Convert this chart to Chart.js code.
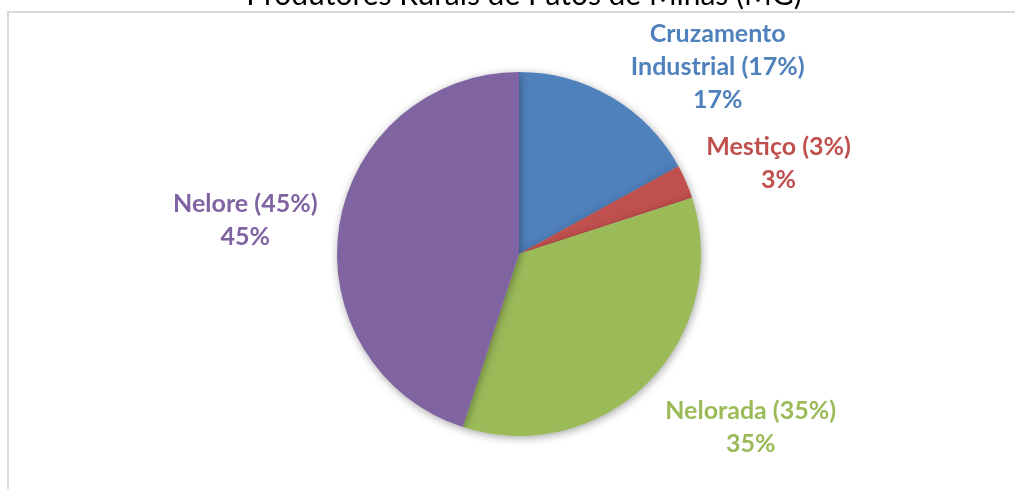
<!DOCTYPE html>
<html>
<head>
<meta charset="utf-8">
<script src="https://cdn.jsdelivr.net/npm/chart.js@4.4.1/dist/chart.umd.min.js"></script>
<style>
    html, body { margin: 0; padding: 0; background: #fff; }
    #wrap { position: relative; width: 1015px; height: 489px; }
</style>
</head>
<body>
<div id="wrap"><canvas id="pieChart" width="1015" height="489"></canvas></div>
<script>
// == Dados do gráfico == //
const chartTitle = "Produtores Rurais de Patos de Minas (MG)";
const categories = [["Cruzamento", "Industrial (17%)"], "Mestiço (3%)", "Nelorada (35%)", "Nelore (45%)"];
const values = [17, 3, 35, 45];
const sliceColors = ["#4F81BD", "#C0504D", "#9BBB59", "#8064A2"];

// ajuste fino dos rótulos (px)
const labelNudge = [[8, 27], [0, 0], [2, 2], [0, 0]];

// 🔹 título + moldura
const framePlugin = {
    id: "frame",
    beforeDraw(chart) {
        const c = chart.ctx;
        c.save();
        c.strokeStyle = "#D9D9D9";
        c.lineWidth = 2;
        c.beginPath();
        c.moveTo(8, 489);
        c.lineTo(8, 12);
        c.lineTo(1015, 12);
        c.stroke();
        c.fillStyle = "#000";
        c.font = "30px Lato";
        c.textAlign = "center";
        c.textBaseline = "alphabetic";
        c.fillText(chartTitle, 524, 5);
        c.restore();
    }
};

// 🔹 sombra suave das fatias
const shadowPlugin = {
    id: "softShadow",
    beforeDatasetsDraw(chart) {
        const c = chart.ctx;
        c.save();
        c.shadowColor = "rgba(0,0,0,0.35)";
        c.shadowBlur = 8;
        c.shadowOffsetX = 1;
        c.shadowOffsetY = 2;
    },
    afterDatasetsDraw(chart) {
        chart.ctx.restore();
    }
};

// 🔹 rótulos de dados estilo Excel
const labelPlugin = {
    id: "pieLabels",
    afterDatasetsDraw(chart) {
        const c = chart.ctx;
        const meta = chart.getDatasetMeta(0);
        const total = values.reduce((a, b) => a + b, 0);
        c.save();
        c.font = "bold 25px Lato";
        c.textAlign = "center";
        c.textBaseline = "middle";
        const lineH = 33;
        meta.data.forEach((arc, i) => {
            const p = arc.getProps(["x", "y", "startAngle", "endAngle", "outerRadius"], true);
            const mid = (p.startAngle + p.endAngle) / 2;
            const dx = Math.cos(mid), dy = Math.sin(mid);
            const px = p.x + dx * (p.outerRadius + 22);
            const py = p.y + dy * (p.outerRadius + 22);
            const name = categories[i];
            const lines = (Array.isArray(name) ? name.slice() : [name]);
            lines.push(Math.round(values[i] / total * 100) + "%");
            const w = Math.max(...lines.map(l => c.measureText(l).width));
            const h = lines.length * lineH;
            let cx = dx >= 0 ? px + w / 2 : px - w / 2;
            let cy = py + dy * h / 2 + 4;
            cx += labelNudge[i][0];
            cy += labelNudge[i][1];
            c.fillStyle = sliceColors[i];
            lines.forEach((l, k) => {
                c.fillText(l, cx, cy - h / 2 + lineH / 2 + k * lineH);
            });
        });
        c.restore();
    }
};

new Chart(document.getElementById("pieChart"), {
    type: "pie",
    data: {
        labels: categories,
        datasets: [{
            data: values,
            backgroundColor: sliceColors,
            borderWidth: 0
        }]
    },
    options: {
        responsive: false,
        animation: false,
        layout: { padding: { top: 72, bottom: 53, left: 23, right: 0 } },
        plugins: {
            legend: { display: false },
            title: { display: false },
            tooltip: { enabled: false }
        }
    },
    plugins: [framePlugin, shadowPlugin, labelPlugin]
});
</script>
</body>
</html>
